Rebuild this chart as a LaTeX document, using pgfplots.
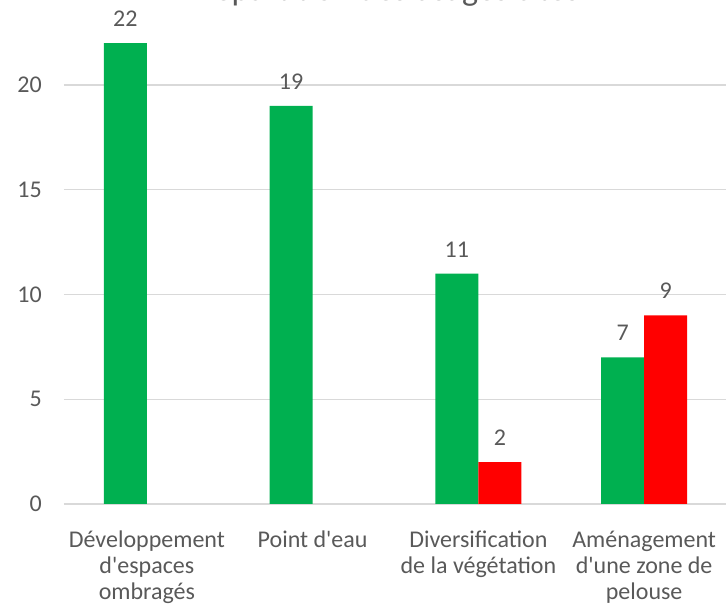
\documentclass[border=0pt]{standalone}
\usepackage{pgfplots}
\pgfplotsset{compat=1.18}
\usepackage{fontspec}
\setmainfont{Carlito}
\definecolor{ggreen}{HTML}{00B050}
\definecolor{rred}{HTML}{FF0000}
\definecolor{txt}{HTML}{595959}
\definecolor{grd}{HTML}{D9D9D9}
\newcommand{\q}{\textquotesingle}
\begin{document}
\begin{tikzpicture}[x=1bp,y=1bp]
\clip (-64,-102) rectangle (662,504);
\begin{axis}[
  at={(0,0)}, anchor=south west,
  scale only axis, width=663bp, height=504bp,
  xmin=-0.5, xmax=3.5, ymin=0, ymax=24.06,
  ybar, bar width=43bp,
  axis line style={draw=none},
  major tick length=0pt,
  ytick={0,5,10,15,20},
  ymajorgrids, grid style={grd, line width=1.3bp},
  xtick={0,1,2,3},
  xticklabels={{Développement\\d\q espaces\\ombragés}, {Point d\q eau}, {Diversification\\de la végétation}, {Aménagement\\d\q une zone de\\pelouse}},
  /pgf/number format/assume math mode=true,
  ticklabel style={font=\fontsize{24bp}{26bp}\selectfont, text=txt},
  yticklabel style={inner sep=0pt, xshift=-22bp},
  xticklabel style={inner sep=0pt, anchor=north, yshift=-27bp, align=center},
  nodes near coords,
  every node near coord/.append style={font=\fontsize{24bp}{28bp}\selectfont, text=txt, yshift=13bp},
  clip=false,
]
\addplot[fill=ggreen, draw=none, bar shift=-21.5bp] coordinates {(0,22) (1,19) (2,11) (3,7)};
\addplot[fill=rred, draw=none, bar shift=21.5bp] coordinates {(2,2) (3,9)};
\end{axis}
\node[anchor=base, text=txt, font=\fontsize{34bp}{40bp}\selectfont, inner sep=0pt] at (324,503) {Répartition des usages cités};
\end{tikzpicture}
\end{document}
